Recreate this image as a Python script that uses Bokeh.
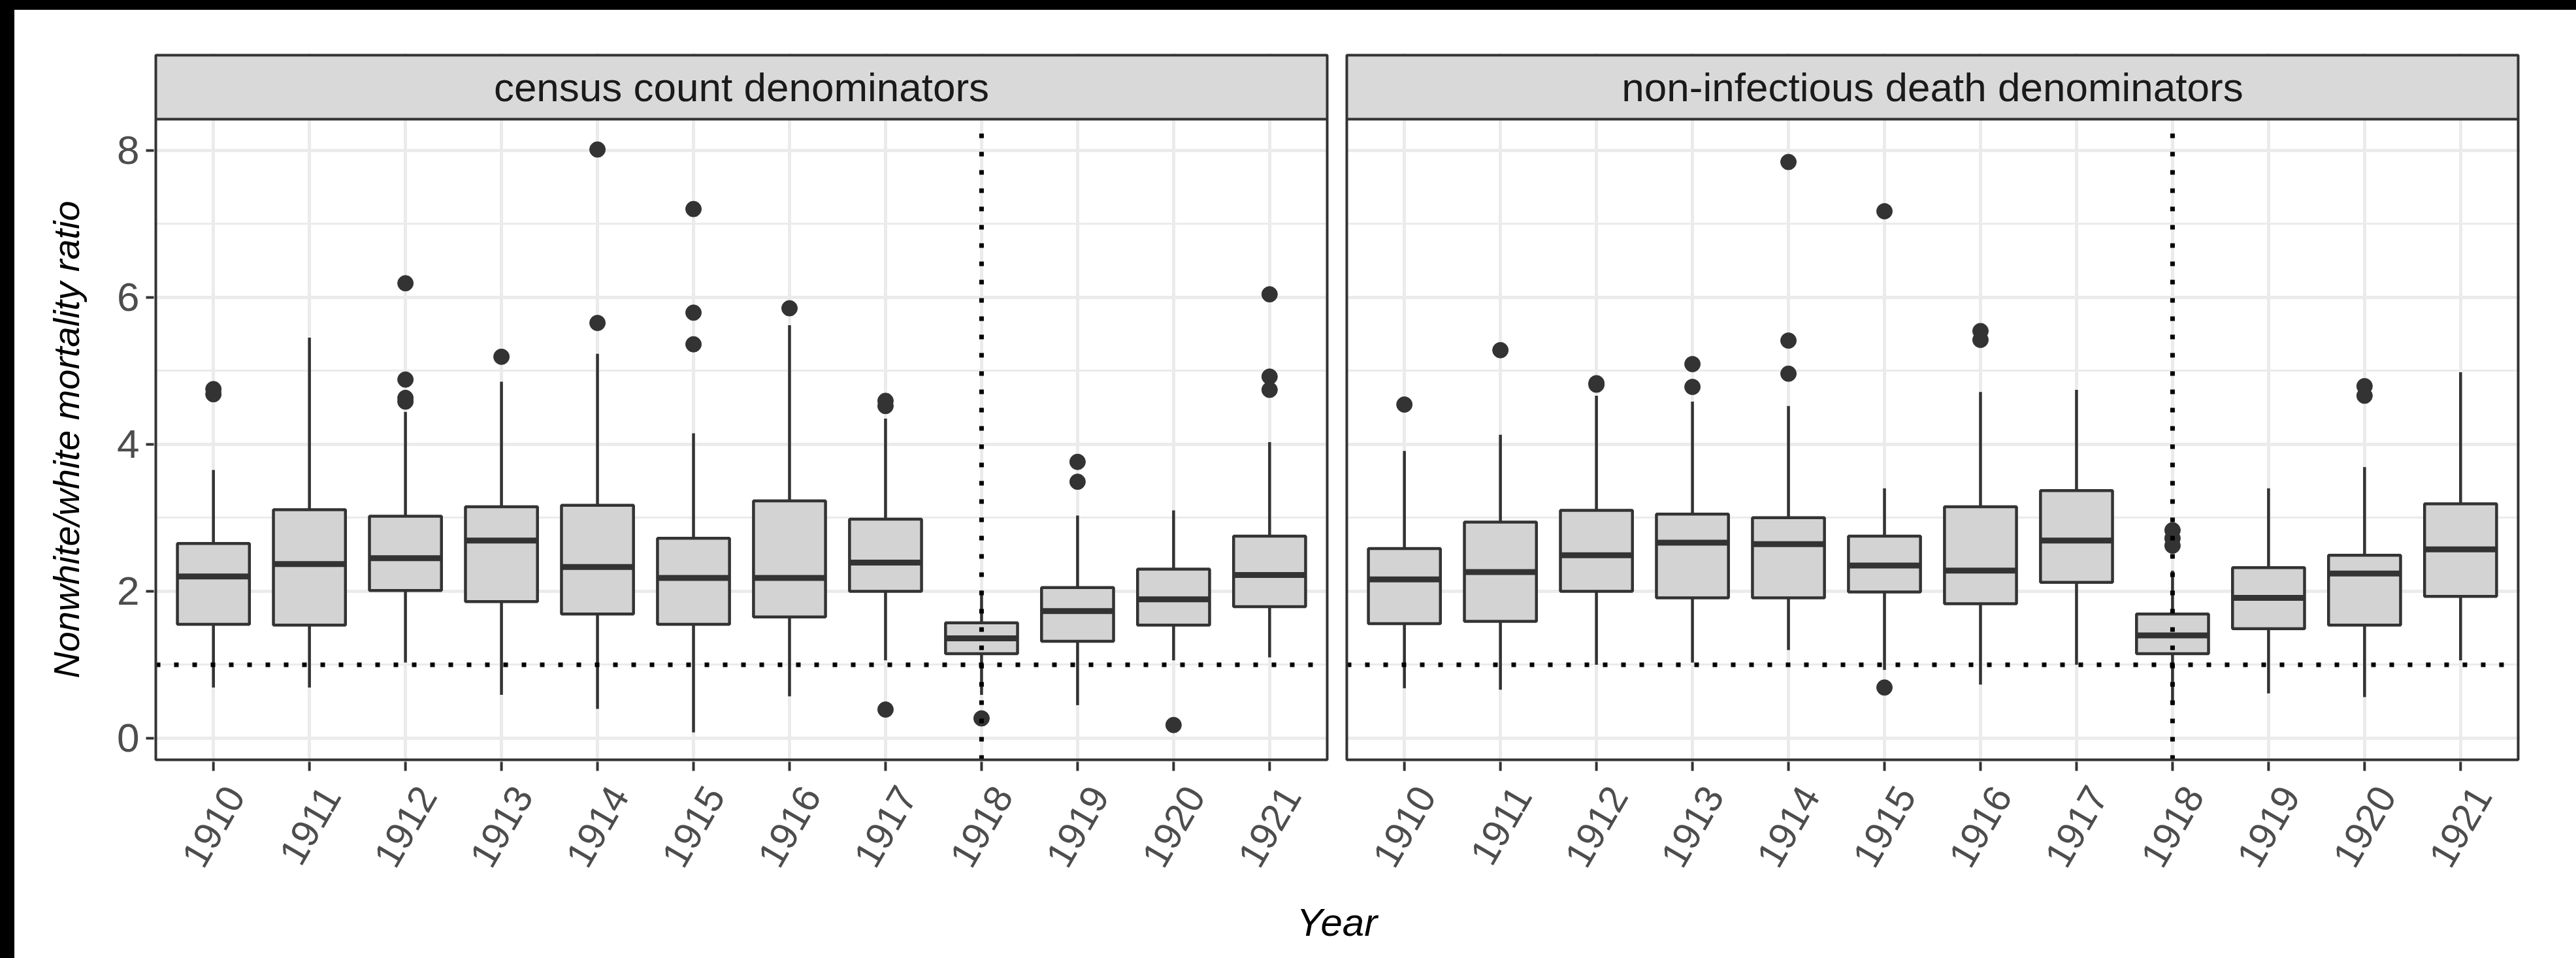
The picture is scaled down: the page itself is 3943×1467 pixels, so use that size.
import math
from bokeh.plotting import figure
from bokeh.models import FactorRange, Range1d, ColumnDataSource, FixedTicker, Spacer
from bokeh.layouts import column, row
from bokeh.core.properties import value
from bokeh.embed import file_html
from bokeh.resources import INLINE

# ---------------- data ----------------
PANELS = ["census count denominators", "non-infectious death denominators"]
YEARS = ["1910", "1911", "1912", "1913", "1914", "1915",
         "1916", "1917", "1918", "1919", "1920", "1921"]

census_lower = [0.69, 0.69, 1.03, 0.59, 0.40, 0.08, 0.57, 1.06, 0.59, 0.45, 1.06, 1.10]
census_q1 = [1.55, 1.54, 2.01, 1.86, 1.69, 1.55, 1.65, 2.00, 1.15, 1.32, 1.54, 1.79]
census_median = [2.20, 2.37, 2.45, 2.69, 2.33, 2.18, 2.18, 2.39, 1.36, 1.73, 1.89, 2.22]
census_q3 = [2.65, 3.11, 3.02, 3.15, 3.17, 2.72, 3.23, 2.98, 1.57, 2.05, 2.30, 2.75]
census_upper = [3.65, 5.45, 4.44, 4.85, 5.23, 4.15, 5.62, 4.35, 2.01, 3.03, 3.10, 4.03]
census_outliers = [[4.75, 4.68], [], [6.19, 4.88, 4.63, 4.58], [5.19], [8.01, 5.65],
                   [7.20, 5.79, 5.36], [5.85], [4.59, 4.52, 0.39], [0.27], [3.76, 3.49],
                   [0.18], [6.04, 4.92, 4.74]]

noninf_lower = [0.68, 0.66, 1.00, 1.03, 1.20, 0.93, 0.73, 1.00, 0.45, 0.61, 0.56, 1.06]
noninf_q1 = [1.56, 1.59, 2.00, 1.91, 1.91, 1.99, 1.83, 2.12, 1.15, 1.49, 1.54, 1.93]
noninf_median = [2.16, 2.26, 2.49, 2.66, 2.64, 2.35, 2.28, 2.69, 1.40, 1.91, 2.24, 2.57]
noninf_q3 = [2.58, 2.94, 3.10, 3.05, 3.00, 2.75, 3.15, 3.37, 1.69, 2.32, 2.49, 3.19]
noninf_upper = [3.91, 4.13, 4.66, 4.58, 4.52, 3.40, 4.71, 4.74, 2.28, 3.40, 3.69, 4.98]
noninf_outliers = [[4.54], [5.28], [4.83, 4.81], [5.09, 4.78], [7.84, 5.41, 4.96],
                   [7.17, 0.69], [5.54, 5.42], [], [2.83, 2.72, 2.62], [],
                   [4.79, 4.66], []]

REF_RATIO = 1.0      # horizontal dotted reference line
REF_YEAR = "1918"    # vertical dotted reference line

Y_TICKS = [0, 2, 4, 6, 8]
Y_MINOR = [1, 3, 5, 7]
X_TITLE = "Year"
Y_TITLE = "Nonwhite/white mortality ratio"

# ---------------- layout / style constants ----------------
EXPAND = 0.6          # discrete axis expansion of each facet
BOX_WIDTH = 0.75
GAP = 0.204           # gap between facets (category units)
EDGE = 0.0204         # small margin so panel borders are not clipped
PANEL_BOTTOM = -0.293
PANEL_TOP = 8.422
STRIP_TOP = 9.293
Y_EDGE = 0.027
LABEL_DX = 0.1        # tick-label anchor nudge (category units)

FONT = "Liberation Sans"
DARK = "#333333"
GRID = "#EBEBEB"

TOTAL_W, TOTAL_H = 3943, 1467
TOP_BAND, LEFT_BAND = 15, 22
TITLE_W = 140
H = TOTAL_H - TOP_BAND
W = TOTAL_W - LEFT_BAND - TITLE_W
MB_TOP = 66
MAIN_H = 1151                 # main figure: strip + panels
BOTTOM_H = H - MAIN_H         # ticks, tick labels and x title
MB_LEFT, MB_RIGHT = 73, 86
TICK_LEN = 14

stats = {
    PANELS[0]: (census_lower, census_q1, census_median, census_q3, census_upper, census_outliers),
    PANELS[1]: (noninf_lower, noninf_q1, noninf_median, noninf_q3, noninf_upper, noninf_outliers),
}

factors = [(g, yr) for g in PANELS for yr in YEARS]

bx, lo, q1, med, q3, hi, mx0, mx1 = [], [], [], [], [], [], [], []
ox, oy = [], []
for g in PANELS:
    L, Q1, M, Q3, Hh, O = stats[g]
    for i, yr in enumerate(YEARS):
        bx.append((g, yr))
        lo.append(L[i]); q1.append(Q1[i]); med.append(M[i]); q3.append(Q3[i]); hi.append(Hh[i])
        mx0.append((g, yr, -BOX_WIDTH / 2)); mx1.append((g, yr, BOX_WIDTH / 2))
        for v in O[i]:
            ox.append((g, yr)); oy.append(v)

box_src = ColumnDataSource(dict(x=bx, lo=lo, q1=q1, med=med, q3=q3, hi=hi, mx0=mx0, mx1=mx1))
out_src = ColumnDataSource(dict(x=ox, y=oy))
tick_src = ColumnDataSource(dict(x=factors))
lab_src = ColumnDataSource(dict(x=[(g, yr, LABEL_DX) for (g, yr) in factors],
                                text=[yr for (_, yr) in factors]))

x_range = FactorRange(*factors, factor_padding=0.0, group_padding=GAP + 2 * (EXPAND - 0.5),
                      range_padding=(EXPAND - 0.5) + EDGE, range_padding_units="absolute")
y_range = Range1d(PANEL_BOTTOM - Y_EDGE, STRIP_TOP + Y_EDGE)

# ---------------- main figure: strips + panels ----------------
p = figure(width=W, height=MAIN_H, x_range=x_range, y_range=y_range,
           output_backend="svg", toolbar_location=None, x_axis_location=None,
           min_border_left=MB_LEFT, min_border_right=MB_RIGHT, min_border_top=MB_TOP,
           min_border_bottom=0)
p.outline_line_color = None
p.background_fill_color = "white"
p.border_fill_color = "white"

yt = FixedTicker(ticks=Y_TICKS, minor_ticks=Y_MINOR)
p.yaxis.ticker = yt
p.ygrid.ticker = yt
p.ygrid.grid_line_color = GRID
p.ygrid.grid_line_width = 5
p.ygrid.minor_grid_line_color = GRID
p.ygrid.minor_grid_line_width = 3
p.xgrid.grid_line_color = GRID
p.xgrid.grid_line_width = 5

yax = p.yaxis[0]
yax.axis_line_color = None
yax.major_tick_line_color = DARK
yax.major_tick_line_width = 4
yax.major_tick_in = 0
yax.major_tick_out = 12
yax.minor_tick_line_color = None
yax.major_label_text_font = FONT
yax.major_label_text_font_size = "62px"
yax.major_label_text_color = "#4D4D4D"
yax.major_label_standoff = 10

# white gap between the two facets
p.quad(left=[(PANELS[0], YEARS[-1], EXPAND)], right=[(PANELS[1], YEARS[0], -EXPAND)],
       bottom=[PANEL_BOTTOM - Y_EDGE], top=[STRIP_TOP + Y_EDGE],
       fill_color="white", line_color=None)

# boxplots
p.segment(x0="x", y0="q3", x1="x", y1="hi", source=box_src, line_color=DARK, line_width=4.5)
p.segment(x0="x", y0="q1", x1="x", y1="lo", source=box_src, line_color=DARK, line_width=4.5)
p.vbar(x="x", bottom="q1", top="q3", width=BOX_WIDTH, source=box_src,
       fill_color="#D3D3D3", line_color=DARK, line_width=4.5)
p.segment(x0="mx0", y0="med", x1="mx1", y1="med", source=box_src, line_color=DARK, line_width=9)
p.scatter(x="x", y="y", source=out_src, size=24, fill_color=DARK, line_color=DARK)

# reference lines per facet
for g in PANELS:
    p.segment(x0=[(g, YEARS[0], -EXPAND)], x1=[(g, YEARS[-1], EXPAND)],
              y0=[REF_RATIO], y1=[REF_RATIO], line_color="black", line_width=7, line_dash="7 21")
    p.segment(x0=[(g, REF_YEAR)], x1=[(g, REF_YEAR)], y0=[PANEL_BOTTOM], y1=[PANEL_TOP],
              line_color="black", line_width=7, line_dash="7 21")

# facet strips and borders
for g in PANELS:
    left = (g, YEARS[0], -EXPAND)
    right = (g, YEARS[-1], EXPAND)
    p.quad(left=[left], right=[right], bottom=[PANEL_TOP], top=[STRIP_TOP],
           fill_color="#D9D9D9", line_color=None)
    p.text(x=[(g, YEARS[5], 0.5)], y=[(PANEL_TOP + STRIP_TOP) / 2], text=[g],
           text_align="center", text_baseline="middle", text_font=value(FONT),
           text_font_size="62px", text_color="#1A1A1A")
    p.quad(left=[left], right=[right], bottom=[PANEL_BOTTOM], top=[STRIP_TOP],
           fill_color=None, line_color=DARK, line_width=4)
    p.segment(x0=[left], x1=[right], y0=[PANEL_TOP], y1=[PANEL_TOP], line_color=DARK, line_width=4)

# ---------------- bottom figure: x ticks, tick labels, x title (same x scale) ----------------
bf = figure(width=W, height=BOTTOM_H, x_range=x_range, y_range=Range1d(-BOTTOM_H, 0),
            output_backend="svg", toolbar_location=None,
            x_axis_location=None, y_axis_location=None,
            min_border_left=MB_LEFT, min_border_right=MB_RIGHT, min_border_top=0, min_border_bottom=0)
bf.outline_line_color = None
bf.grid.visible = False
bf.segment(x0="x", y0=1, x1="x", y1=-TICK_LEN, source=tick_src, line_color=DARK, line_width=4)
bf.text(x="x", y=-(TICK_LEN + 18), text="text", source=lab_src, angle=math.pi / 3,
        text_align="right", text_baseline="top", text_font=value(FONT),
        text_font_size="59px", text_color="#4D4D4D")
bf.text(x=[(PANELS[0], YEARS[-1], EXPAND + GAP / 2)], y=[-246], text=[X_TITLE],
        text_align="center", text_baseline="alphabetic", text_font=value(FONT),
        text_font_style="italic", text_font_size="60px", text_color="black")

# ---------------- y title figure (centred on the panels) ----------------
tf = figure(width=TITLE_W, height=H, x_range=Range1d(0, TITLE_W), y_range=y_range,
            output_backend="svg", toolbar_location=None,
            x_axis_location=None, y_axis_location=None,
            min_border_left=0, min_border_right=0, min_border_top=MB_TOP,
            min_border_bottom=H - MAIN_H)
tf.outline_line_color = None
tf.grid.visible = False
tf.text(x=[79], y=[(PANEL_BOTTOM + PANEL_TOP) / 2], text=[Y_TITLE], angle=math.pi / 2,
        text_align="center", text_baseline="middle", text_font=value(FONT),
        text_font_style="italic", text_font_size="56px", text_color="black")

top_band = Spacer(width=TOTAL_W, height=TOP_BAND, styles={"background-color": "black"})
left_band = Spacer(width=LEFT_BAND, height=H, styles={"background-color": "black"})
layout = column(top_band, row(left_band, tf, column(p, bf)))

with open("out.html", "w") as f:
    f.write(file_html(layout, INLINE))
